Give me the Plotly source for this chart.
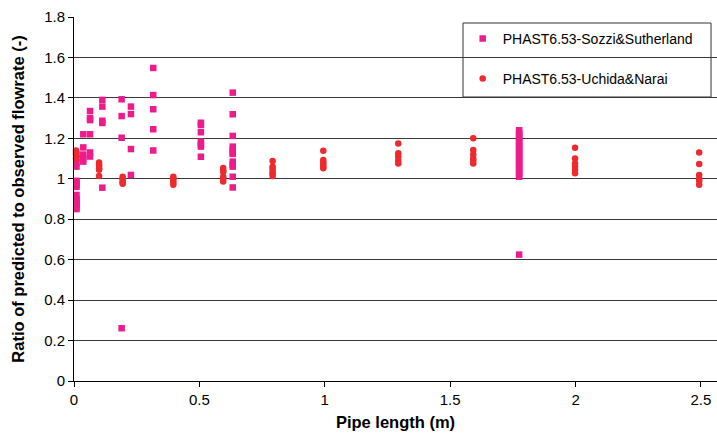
import plotly.graph_objects as go

# Sozzi & Sutherland (squares)
sozzi_x = ([0.01] * 15 + [0.037] * 5 + [0.064] * 6 + [0.113] * 5 + [0.19] * 4 +
           [0.227] * 4 + [0.316] * 5 + [0.506] * 7 + [0.633] * 12 + [1.775] * 25)
sozzi_y = ([1.12, 1.10, 1.08, 1.06, 0.99, 0.98, 0.97, 0.96, 0.92, 0.90, 0.89, 0.88, 0.87, 0.86, 0.85] +
           [1.22, 1.155, 1.12, 1.10, 1.085] +
           [1.335, 1.30, 1.29, 1.22, 1.13, 1.11] +
           [1.39, 1.357, 1.287, 1.276, 0.956] +
           [1.393, 1.31, 1.203, 0.261] +
           [1.357, 1.32, 1.147, 1.019] +
           [1.548, 1.414, 1.344, 1.245, 1.14] +
           [1.277, 1.266, 1.23, 1.184, 1.17, 1.159, 1.109] +
           [1.426, 1.319, 1.212, 1.159, 1.145, 1.13, 1.123, 1.085, 1.07, 1.06, 1.01, 0.957] +
           [1.24, 1.23, 1.22, 1.21, 1.20, 1.19, 1.18, 1.17, 1.16, 1.15, 1.14, 1.13, 1.12,
            1.11, 1.10, 1.09, 1.08, 1.07, 1.06, 1.05, 1.04, 1.03, 1.02, 1.01, 0.625])

# Uchida & Narai (circles)
uchida_x = ([0.008] * 4 + [0.1] * 6 + [0.194] * 5 + [0.396] * 5 + [0.595] * 6 +
            [0.792] * 6 + [0.994] * 6 + [1.293] * 5 + [1.592] * 6 + [1.998] * 6 + [2.493] * 6)
uchida_y = ([1.14, 1.13, 1.12, 1.10] +
            [1.08, 1.07, 1.06, 1.05, 1.045, 1.014] +
            [1.01, 1.0, 0.99, 0.98, 0.975] +
            [1.01, 1.0, 0.99, 0.98, 0.97] +
            [1.053, 1.04, 1.035, 1.01, 1.0, 0.986] +
            [1.088, 1.06, 1.05, 1.035, 1.025, 1.014] +
            [1.138, 1.093, 1.08, 1.07, 1.06, 1.052] +
            [1.175, 1.126, 1.11, 1.09, 1.076] +
            [1.20, 1.142, 1.12, 1.10, 1.09, 1.076] +
            [1.154, 1.10, 1.076, 1.06, 1.045, 1.027] +
            [1.13, 1.073, 1.019, 1.00, 0.99, 0.97])

x_ticks = [0, 0.5, 1, 1.5, 2, 2.5]
y_ticks = [0, 0.2, 0.4, 0.6, 0.8, 1, 1.2, 1.4, 1.6, 1.8]

FONT = "Liberation Sans, Arial, sans-serif"

fig = go.Figure()
fig.add_trace(go.Scatter(
    x=sozzi_x, y=sozzi_y, mode="markers", name="PHAST6.53-Sozzi&Sutherland",
    legendgroup="a",
    marker=dict(symbol="square", size=6.5, color="#EC1C8C"), cliponaxis=False))
fig.add_trace(go.Scatter(
    x=uchida_x, y=uchida_y, mode="markers", name="PHAST6.53-Uchida&Narai",
    legendgroup="b",
    marker=dict(symbol="circle", size=6.5, color="#EE2A2E"), cliponaxis=False))

# legend frame (drawn as a paper-referenced box so it can be wider than the text)
fig.add_shape(type="rect", xref="paper", yref="paper",
              x0=0.605, x1=0.9907, y0=0.7802, y1=0.9835,
              fillcolor="white", line=dict(color="#333", width=1), layer="between")

fig.update_layout(
    width=717, height=435,
    margin=dict(l=74, r=0, t=17, b=54, autoexpand=False),
    paper_bgcolor="white", plot_bgcolor="white",
    font=dict(family=FONT, size=15, color="black"),
    showlegend=True,
    legend=dict(
        x=0.6045, y=0.984, xanchor="left", yanchor="top",
        bgcolor="rgba(0,0,0,0)", borderwidth=0,
        font=dict(family=FONT, size=14, color="black"),
        tracegroupgap=19, itemsizing="trace",
    ),
    xaxis=dict(
        range=[0, 2.564], tickvals=x_ticks, ticktext=[str(v) for v in x_ticks],
        showgrid=False, zeroline=False, automargin=False,
        showline=True, linecolor="black", linewidth=1,
        ticks="outside", ticklen=5, tickcolor="black",
        tickfont=dict(size=15),
        title=dict(text="<b>Pipe length (m)</b>", font=dict(size=16.5), standoff=9),
    ),
    yaxis=dict(
        range=[0, 1.8], tickvals=y_ticks, ticktext=[f"{v:g}" for v in y_ticks],
        showgrid=True, gridcolor="#3a3a3a", gridwidth=1, zeroline=False, automargin=False,
        showline=True, linecolor="black", linewidth=1,
        ticks="outside", ticklen=5, tickcolor="black",
        tickfont=dict(size=15),
        title=dict(text="<b>Ratio of predicted to observed flowrate (-)</b>",
                   font=dict(size=16.5), standoff=15),
    ),
)

fig.write_html("out.html", config={"displayModeBar": False},
               post_script="document.body.style.margin='0';document.body.style.overflow='hidden';")
